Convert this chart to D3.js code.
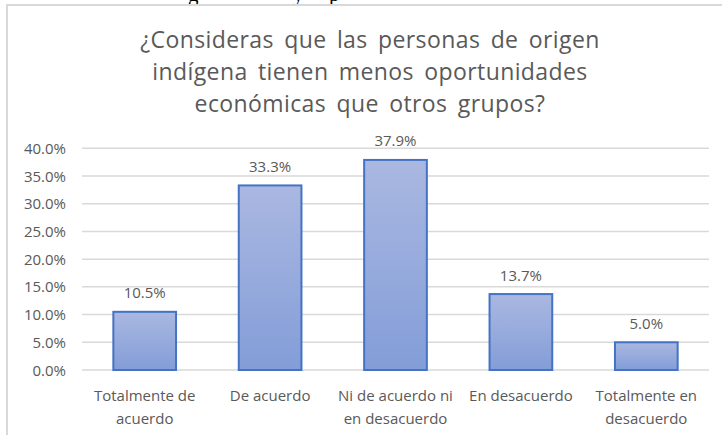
<!DOCTYPE html>
<html>
<head>
<meta charset="utf-8">
<script src="https://cdn.jsdelivr.net/npm/d3@7"></script>
<style>
  body { margin: 0; background: #fff; }
  svg { display: block; }
</style>
</head>
<body>
<svg width="722" height="435"></svg>
<script>
// data
var categories = [['Totalmente de', 'acuerdo'], ['De acuerdo'], ['Ni de acuerdo ni', 'en desacuerdo'], ['En desacuerdo'], ['Totalmente en', 'desacuerdo']];
var values = [10.5, 33.3, 37.9, 13.7, 5.0];
var yTicks = [0, 5, 10, 15, 20, 25, 30, 35, 40];
var titleLines = ['¿Consideras que las personas de origen', 'indígena tienen menos oportunidades', 'económicas que otros grupos?'];

var svg = d3.select('svg');
var font = '"Open Sans", sans-serif';
var grey = '#595959';

// bit of the document text above the chart, cut off at the top
var cut = [['g', 188], ['y', 293], ['p', 329]];
cut.forEach(function(c) {
    svg.append('text')
        .attr('x', c[1]).attr('y', 0.5)
        .style('font-family', '"Liberation Serif", serif')
        .style('font-size', '21px')
        .style('fill', '#000')
        .text(c[0]);
});

// chart frame
svg.append('rect')
    .attr('x', 7).attr('y', 5)
    .attr('width', 730).attr('height', 440)
    .style('fill', 'none')
    .style('stroke', '#d9d9d9')
    .style('stroke-width', 2);

// title
titleLines.forEach(function(t, i) {
    svg.append('text')
        .attr('x', 370).attr('y', 48 + i * 32)
        .attr('text-anchor', 'middle')
        .style('font-family', font)
        .style('font-size', '23px')
        .style('word-spacing', '4px')
        .style('letter-spacing', '0.4px')
        .style('fill', grey)
        .text(t);
});

var x = d3.scaleBand()
    .domain(d3.range(values.length))
    .range([82, 709])
    .paddingInner(0.5)
    .paddingOuter(0.25);

var y = d3.scaleLinear()
    .domain([0, 40])
    .range([370, 148.3]);

// gridlines
svg.append('g').selectAll('line')
    .data(yTicks)
    .enter().append('line')
    .attr('x1', 82).attr('x2', 709)
    .attr('y1', function(d) { return y(d); })
    .attr('y2', function(d) { return y(d); })
    .style('stroke', '#d9d9d9')
    .style('stroke-width', 1.5);

// y axis labels
var yAxis = d3.axisLeft(y)
    .tickValues(yTicks)
    .tickSize(0)
    .tickPadding(0)
    .tickFormat(function(d) { return d.toFixed(1) + '%'; });
var ya = svg.append('g').attr('transform', 'translate(66,0)').call(yAxis);
ya.select('.domain').remove();
ya.selectAll('text')
    .attr('dy', '0.34em')
    .style('font-family', font)
    .style('font-size', '15px')
    .style('fill', grey);

// gradient
var grad = svg.append('defs').append('linearGradient')
    .attr('id', 'barGrad')
    .attr('x1', 0).attr('y1', 0).attr('x2', 0).attr('y2', 1);
grad.append('stop').attr('offset', '0%').attr('stop-color', '#aab8e1');
grad.append('stop').attr('offset', '100%').attr('stop-color', '#839dd8');

// bars
svg.append('g').selectAll('rect')
    .data(values)
    .enter().append('rect')
    .attr('x', function(d, i) { return x(i); })
    .attr('y', function(d) { return y(d); })
    .attr('width', x.bandwidth())
    .attr('height', function(d) { return y(0) - y(d); })
    .style('fill', 'url(#barGrad)')
    .style('stroke', '#4472c4')
    .style('stroke-width', 2);

// value labels
svg.append('g').selectAll('text')
    .data(values)
    .enter().append('text')
    .attr('x', function(d, i) { return x(i) + x.bandwidth() / 2; })
    .attr('y', function(d) { return y(d) - 13.5; })
    .attr('text-anchor', 'middle')
    .style('font-family', font)
    .style('font-size', '15px')
    .style('fill', grey)
    .text(function(d) { return d.toFixed(1) + '%'; });

// category labels
categories.forEach(function(c, i) {
    var t = svg.append('text')
        .attr('text-anchor', 'middle')
        .style('font-family', font)
        .style('font-size', '15px')
        .style('fill', grey);
    c.forEach(function(line, j) {
        t.append('tspan')
            .attr('x', x(i) + x.bandwidth() / 2)
            .attr('y', 400.5 + j * 23)
            .text(line);
    });
});
</script>
</body>
</html>
